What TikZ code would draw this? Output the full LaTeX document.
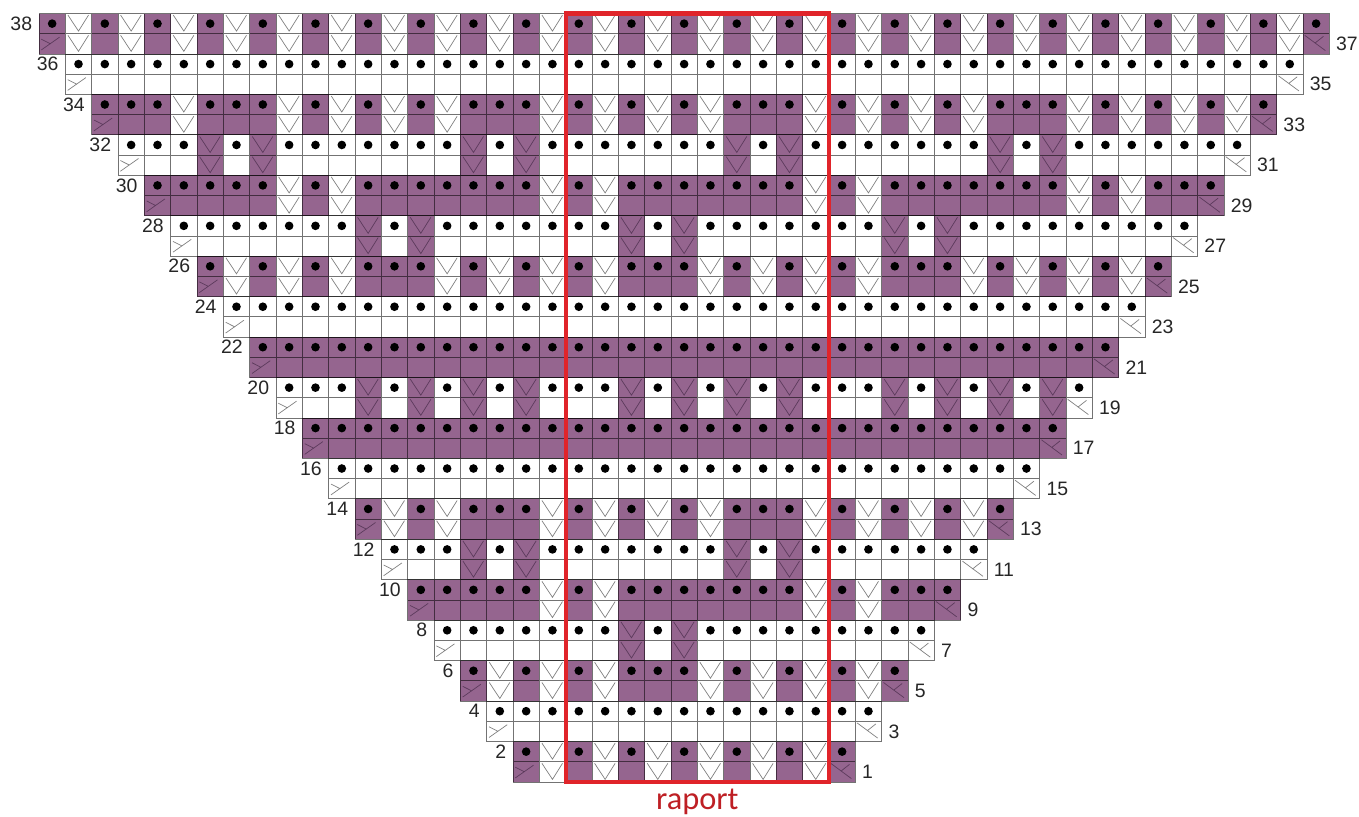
\documentclass[tikz,border=0pt]{standalone}
\usepackage{fontspec}
\setmainfont{Liberation Sans}
\newfontfamily\raportfont{Carlito}
\definecolor{heather}{HTML}{95658F}
\definecolor{heatherink}{HTML}{5C3A5C}
\definecolor{frame}{HTML}{E0242A}
\tikzset{
    cellbox/.style={draw=black, draw opacity=0.55, line width=0.5pt},
    knitdot/.style={circle, fill=black, inner sep=0pt, minimum size=5.6pt},
    paleink/.style={draw=black!50, line width=0.45pt},
    darkink/.style={draw=heatherink, line width=0.45pt},
    rownum/.style={inner sep=0pt, font=\fontsize{12.6}{14}\selectfont, text=black!85}
}
% one chart square: col, row from the top, fill
\newcommand{\knitcell}[3]{\fill[#3] (#1,#2) rectangle ++(1,1);}
\newcommand{\knitvee}[3]{\draw[#3] (#1+0.1,#2+0.08) -- (#1+0.5,#2+0.87) -- (#1+0.88,#2+0.08);}
% upper and lower square of one stitch: 0 white dot, 1 purple dot, 2 white vee, 3 purple vee
\newcommand{\knitstitch}[3]{%
    \pgfmathtruncatemacro\lowrow{#2+1}
    \ifcase#3\relax
        \knitcell{#1}{#2}{white}\knitcell{#1}{\lowrow}{white}
        \node[knitdot] (dot-#1-#2) at (#1+0.5,#2+0.5) {};
    \or
        \knitcell{#1}{#2}{heather}\knitcell{#1}{\lowrow}{heather}
        \node[knitdot] (dot-#1-#2) at (#1+0.5,#2+0.5) {};
    \or
        \knitcell{#1}{#2}{white}\knitcell{#1}{\lowrow}{white}
        \knitvee{#1}{#2}{paleink}\knitvee{#1}{\lowrow}{paleink}
    \or
        \knitcell{#1}{#2}{heather}\knitcell{#1}{\lowrow}{heather}
        \knitvee{#1}{#2}{darkink}\knitvee{#1}{\lowrow}{darkink}
    \fi
}
\begin{document}
\begin{tikzpicture}[x=0.6cm, y=-0.4608cm]
    \useasboundingbox (-1.481,-0.668) rectangle (50.13,39.69);

    % stitch rows, two chart rows each, ten stitches per repeat
    \foreach \k/\motif in {
        0/{1,2,1,2,1,2,1,2,1,2}, 1/{0,0,0,0,0,0,0,0,0,0},
        2/{1,2,1,2,1,2,1,1,1,2}, 3/{0,0,0,0,0,0,3,0,3,0},
        4/{1,2,1,1,1,1,1,1,1,2}, 5/{0,0,3,0,3,0,0,0,0,0},
        6/{1,2,1,1,1,2,1,2,1,2}, 7/{0,0,0,0,0,0,0,0,0,0},
        8/{1,1,1,1,1,1,1,1,1,1}, 9/{0,0,3,0,3,0,3,0,3,0},
        10/{1,1,1,1,1,1,1,1,1,1}, 11/{0,0,0,0,0,0,0,0,0,0},
        12/{1,2,1,2,1,2,1,1,1,2}, 13/{0,0,0,0,0,0,3,0,3,0},
        14/{1,2,1,1,1,1,1,1,1,2}, 15/{0,0,3,0,3,0,0,0,0,0},
        16/{1,2,1,1,1,2,1,2,1,2}, 17/{0,0,0,0,0,0,0,0,0,0},
        18/{1,2,1,2,1,2,1,2,1,2}} {
        \pgfmathtruncatemacro\toprow{2*\k}
        \pgfmathtruncatemacro\lastcol{48-\k}
        \foreach \c in {\k,...,\lastcol} {
            \pgfmathtruncatemacro\pos{mod(\c,10)}
            \pgfmathtruncatemacro\kind{{\motif}[\pos]}
            \knitstitch{\c}{\toprow}{\kind}
        }
    }

    % squares that leave the repeat near the edge
    \knitstitch{3}{4}{1}
    \knitstitch{42}{10}{0}
    \knitstitch{32}{30}{0}

    % grid, edge stitches and row numbers
    \foreach \k in {0,...,18} {
        \pgfmathtruncatemacro\toprow{2*\k}
        \pgfmathtruncatemacro\lowrow{2*\k+1}
        \pgfmathtruncatemacro\rightcol{48-\k}
        \pgfmathtruncatemacro\evennum{38-2*\k}
        \pgfmathtruncatemacro\oddnum{37-2*\k}
        \pgfmathtruncatemacro\isdark{mod(\k+1,2)}
        \ifnum\isdark=1 \def\edgeink{darkink}\else \def\edgeink{paleink}\fi
        \draw[cellbox] (\k,\toprow) rectangle (\rightcol+1,\toprow+2)
            (\k,\lowrow) -- (\rightcol+1,\lowrow)
            \foreach \c in {\k,...,\rightcol} {(\c,\toprow) -- (\c,\toprow+2)};
        \draw[\edgeink] (\k+0.09,\lowrow+0.8) -- (\k+0.78,\lowrow+0.17)
            (\k+0.09,\lowrow+0.27) -- (\k+0.44,\lowrow+0.5);
        \draw[\edgeink] (\rightcol+0.07,\lowrow+0.08) -- (\rightcol+0.85,\lowrow+0.83)
            (\rightcol+0.78,\lowrow+0.13) -- (\rightcol+0.45,\lowrow+0.47);
        \node[rownum, anchor=east] (num-\evennum) at (\k-0.25,\lowrow-0.5) {\evennum};
        \node[rownum, anchor=west] (num-\oddnum) at (\rightcol+1.25,\lowrow+0.5) {\oddnum};
    }

    % repeat frame
    \draw[frame, line width=2.7pt] (20,0) rectangle (30,38);
    \node[text=frame!85!black, inner sep=0pt, anchor=base, font=\raportfont\fontsize{21}{24}\selectfont] (raport) at (25,39.34) {raport};
\end{tikzpicture}
\end{document}
